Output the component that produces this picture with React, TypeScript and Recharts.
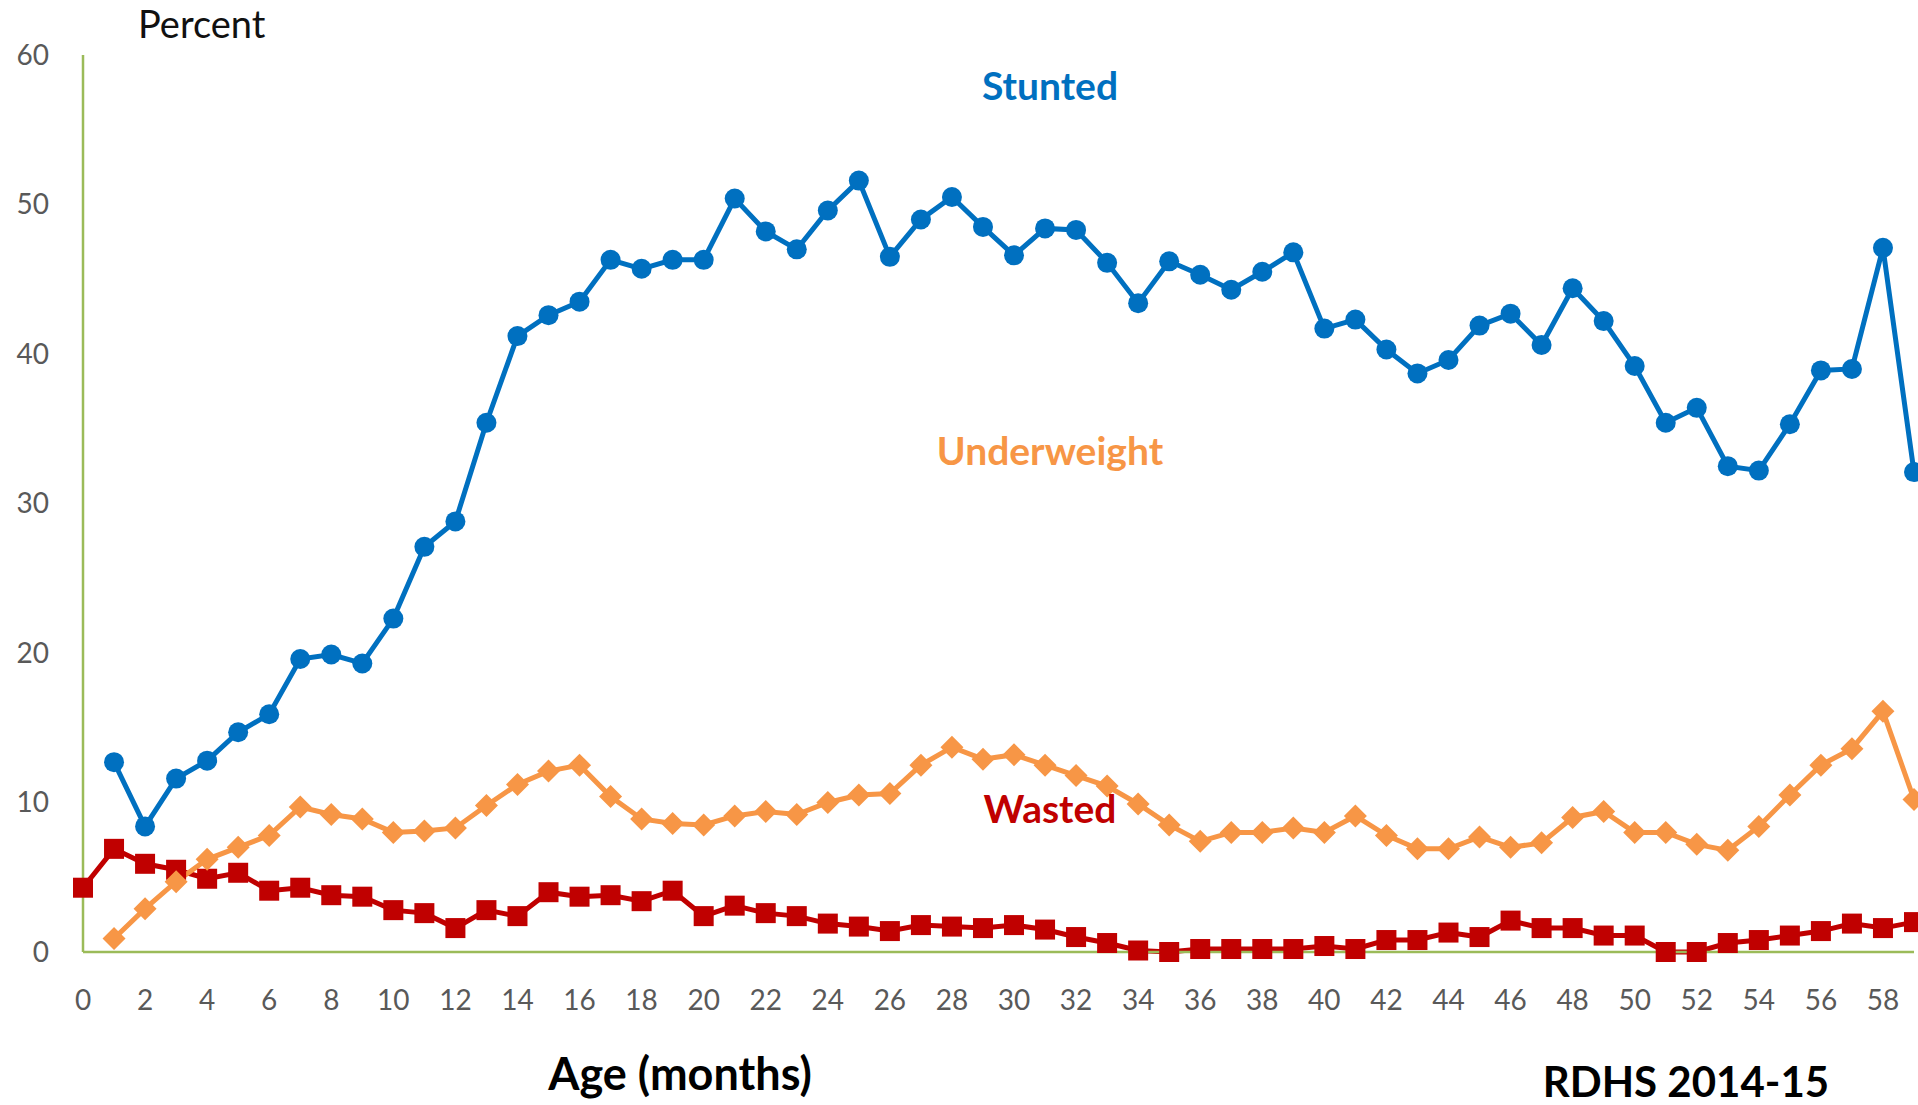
import React from 'react';
import { LineChart, Line, XAxis, YAxis } from 'recharts';

const months = [
  0, 1, 2, 3, 4, 5, 6, 7, 8, 9, 10, 11, 12, 13, 14, 15, 16, 17, 18, 19,
  20, 21, 22, 23, 24, 25, 26, 27, 28, 29, 30, 31, 32, 33, 34, 35, 36, 37, 38, 39,
  40, 41, 42, 43, 44, 45, 46, 47, 48, 49, 50, 51, 52, 53, 54, 55, 56, 57, 58, 59,
];

const stunted: (number | null)[] = [
  null, 12.7, 8.4, 11.6, 12.8, 14.7, 15.9, 19.6, 19.9, 19.3,
  22.3, 27.1, 28.8, 35.4, 41.2, 42.6, 43.5, 46.3, 45.7, 46.3,
  46.3, 50.4, 48.2, 47.0, 49.6, 51.6, 46.5, 49.0, 50.5, 48.5,
  46.6, 48.4, 48.3, 46.1, 43.4, 46.2, 45.3, 44.3, 45.5, 46.8,
  41.7, 42.3, 40.3, 38.7, 39.6, 41.9, 42.7, 40.6, 44.4, 42.2,
  39.2, 35.4, 36.4, 32.5, 32.2, 35.3, 38.9, 39.0, 47.1, 32.1,
];

const underweight: (number | null)[] = [
  null, 0.9, 2.9, 4.7, 6.2, 7.0, 7.8, 9.7, 9.2, 8.9,
  8.0, 8.1, 8.3, 9.8, 11.2, 12.1, 12.5, 10.4, 8.9, 8.6,
  8.5, 9.1, 9.4, 9.2, 10.0, 10.5, 10.6, 12.5, 13.7, 12.9,
  13.2, 12.5, 11.8, 11.1, 9.9, 8.5, 7.4, 8.0, 8.0, 8.3,
  8.0, 9.1, 7.8, 6.9, 6.9, 7.7, 7.0, 7.3, 9.0, 9.4,
  8.0, 8.0, 7.2, 6.8, 8.4, 10.5, 12.5, 13.6, 16.1, 10.2,
];

const wasted: (number | null)[] = [
  4.3, 6.9, 5.9, 5.5, 4.9, 5.3, 4.1, 4.3, 3.8, 3.7,
  2.8, 2.6, 1.6, 2.8, 2.4, 4.0, 3.7, 3.8, 3.4, 4.1,
  2.4, 3.1, 2.6, 2.4, 1.9, 1.7, 1.4, 1.8, 1.7, 1.6,
  1.8, 1.5, 1.0, 0.6, 0.1, 0.0, 0.2, 0.2, 0.2, 0.2,
  0.4, 0.2, 0.8, 0.8, 1.3, 1.0, 2.1, 1.6, 1.6, 1.1,
  1.1, 0.0, 0.0, 0.6, 0.8, 1.1, 1.4, 1.9, 1.6, 2.0,
];

const xTicks = [0, 2, 4, 6, 8, 10, 12, 14, 16, 18, 20, 22, 24, 26, 28, 30, 32, 34, 36, 38, 40, 42, 44, 46, 48, 50, 52, 54, 56, 58];
const yTicks = [0, 10, 20, 30, 40, 50, 60];

const data = months.map((m, i) => ({
  month: m,
  stunted: stunted[i],
  underweight: underweight[i],
  wasted: wasted[i],
}));

const BLUE = '#0070C0';
const ORANGE = '#F79646';
const RED = '#C00000';
const GREEN = '#9BBB59';
const GRAY = '#595959';
const FONT = 'Lato, "Open Sans", sans-serif';

const CircleDot = (props: any) => {
  const { cx, cy, index, value } = props;
  if (cx == null || cy == null || value == null) return <g key={`c${index}`} />;
  return <circle key={`c${index}`} cx={cx} cy={cy} r={10} fill={BLUE} />;
};

const DiamondDot = (props: any) => {
  const { cx, cy, index, value } = props;
  if (cx == null || cy == null || value == null) return <g key={`d${index}`} />;
  const h = 11.5;
  return (
    <polygon
      key={`d${index}`}
      points={`${cx},${cy - h} ${cx + h},${cy} ${cx},${cy + h} ${cx - h},${cy}`}
      fill={ORANGE}
    />
  );
};

const SquareDot = (props: any) => {
  const { cx, cy, index, value } = props;
  if (cx == null || cy == null || value == null) return <g key={`s${index}`} />;
  const s = 20;
  return <rect key={`s${index}`} x={cx - s / 2} y={cy - s / 2} width={s} height={s} fill={RED} />;
};

export default function App() {
  return (
    <div style={{ position: 'absolute', left: 0, top: 0, width: 1918, height: 1105, background: '#fff', overflow: 'hidden' }}>
      <LineChart
        width={1918}
        height={1105}
        data={data}
        margin={{ top: 55, right: 4, left: 23, bottom: 93 }}
      >
        <XAxis
          dataKey="month"
          type="number"
          domain={[0, 59]}
          ticks={xTicks}
          interval={0}
          tickLine={false}
          tickSize={0}
          tickMargin={38}
          height={60}
          axisLine={{ stroke: GREEN, strokeWidth: 2.5 }}
          tick={{ fill: GRAY, fontSize: 28, fontFamily: FONT }}
        />
        <YAxis
          type="number"
          domain={[0, 60]}
          ticks={yTicks}
          interval={0}
          width={60}
          tickLine={false}
          tickSize={0}
          tickMargin={34}
          axisLine={{ stroke: GREEN, strokeWidth: 2.5 }}
          tick={{ fill: GRAY, fontSize: 28, fontFamily: FONT }}
        />
        <Line
          dataKey="stunted"
          stroke={BLUE}
          strokeWidth={5}
          dot={CircleDot}
          activeDot={false}
          isAnimationActive={false}
        />
        <Line
          dataKey="wasted"
          stroke={RED}
          strokeWidth={5}
          dot={SquareDot}
          activeDot={false}
          isAnimationActive={false}
        />
        <Line
          dataKey="underweight"
          stroke={ORANGE}
          strokeWidth={5}
          dot={DiamondDot}
          activeDot={false}
          isAnimationActive={false}
        />
      </LineChart>
      <svg
        width={1918}
        height={1105}
        style={{ position: 'absolute', left: 0, top: 0, pointerEvents: 'none' }}
      >
        <text x={138} y={38} fontFamily={FONT} fontSize={38} fill="#111">Percent</text>
        <text x={1050} y={100} textAnchor="middle" fontFamily={FONT} fontWeight="bold" fontSize={39} fill={BLUE}>Stunted</text>
        <text x={1050} y={465} textAnchor="middle" fontFamily={FONT} fontWeight="bold" fontSize={39} fill={ORANGE}>Underweight</text>
        <text x={1050} y={823} textAnchor="middle" fontFamily={FONT} fontWeight="bold" fontSize={39} fill={RED}>Wasted</text>
        <text x={680} y={1090} textAnchor="middle" fontFamily={FONT} fontWeight="bold" fontSize={45} fill="#000">Age (months)</text>
        <text x={1686} y={1097} textAnchor="middle" fontFamily={FONT} fontWeight="bold" fontSize={42} fill="#000">RDHS 2014-15</text>
      </svg>
    </div>
  );
}
